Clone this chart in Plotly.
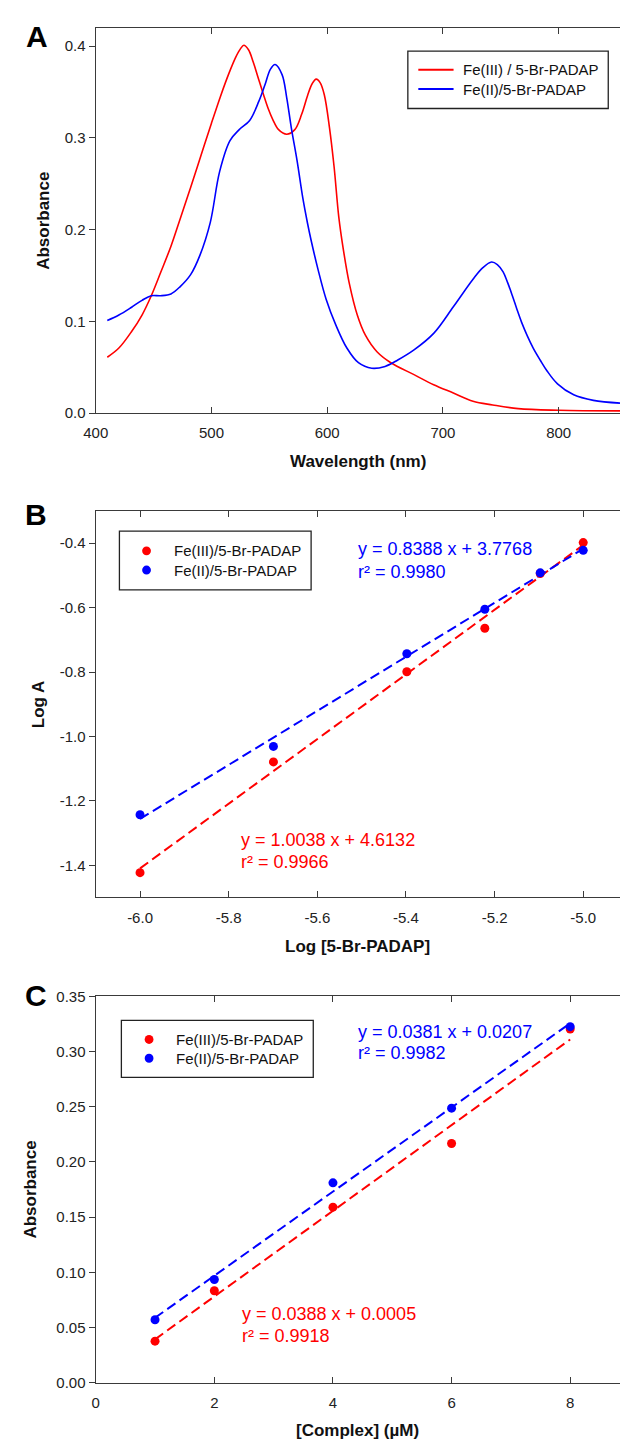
import numpy as np
import plotly.graph_objects as go

# ---------------- Panel A: absorption spectra ----------------
wl_fe3 = [410, 420, 431, 440, 448, 456, 465, 473, 482, 491, 500, 508, 515, 521, 525, 528,
          532, 536, 540, 545, 549, 553, 558, 565, 572, 578, 583, 587, 590.5, 594, 597.5,
          602, 606, 610, 614, 619, 626, 633, 643, 655, 675, 692, 709, 726, 743, 765, 800, 853]
abs_fe3 = [0.061, 0.071, 0.089, 0.107, 0.128, 0.153, 0.182, 0.212, 0.246, 0.281, 0.316,
           0.346, 0.370, 0.388, 0.397, 0.401, 0.396, 0.383, 0.367, 0.347, 0.332, 0.320,
           0.309, 0.304, 0.309, 0.326, 0.346, 0.359, 0.364, 0.360, 0.347, 0.311, 0.268,
           0.214, 0.178, 0.142, 0.107, 0.085, 0.067, 0.055, 0.042, 0.031, 0.022, 0.013,
           0.009, 0.005, 0.0032, 0.0025]

wl_fe2 = [410, 420, 431, 440, 448, 456, 465, 473, 482, 490, 499, 507, 516, 524, 533,
          541, 546, 551, 555, 561, 565, 569, 574, 579, 583, 586, 592, 599, 607.5, 617,
          627, 638.5, 650, 661, 675, 692, 709, 726, 734.5, 742, 747, 752, 756, 760, 764,
          768, 773, 778, 784, 790, 799, 813, 830, 853]
abs_fe2 = [0.101, 0.107, 0.1155, 0.123, 0.128, 0.128, 0.130, 0.138, 0.151, 0.172, 0.208,
           0.263, 0.297, 0.309, 0.319, 0.340, 0.357, 0.375, 0.380, 0.369, 0.344, 0.311,
           0.275, 0.234, 0.207, 0.189, 0.157, 0.1245, 0.096, 0.071, 0.055, 0.049, 0.051,
           0.058, 0.069, 0.087, 0.116, 0.146, 0.1586, 0.1647, 0.162, 0.154, 0.142, 0.128,
           0.113, 0.099, 0.084, 0.071, 0.058, 0.046, 0.032, 0.020, 0.014, 0.011]

# ---------------- Panel B: log-log plot ----------------
log_ligand = [-6.0, -5.699, -5.398, -5.222, -5.097, -5.0]
loga_fe3 = [-1.423, -1.079, -0.799, -0.664, -0.494, -0.398]
loga_fe2 = [-1.243, -1.031, -0.743, -0.605, -0.492, -0.422]
fitb_fe3 = [1.0038, 4.6132]
fitb_fe2 = [0.8388, 3.7768]

# ---------------- Panel C: calibration ----------------
conc = [1, 2, 4, 6, 8]
absc_fe3 = [0.0376, 0.0833, 0.159, 0.2167, 0.3204]
absc_fe2 = [0.057, 0.0935, 0.181, 0.2487, 0.3225]
fitc_fe3 = [0.0388, 0.0005]
fitc_fe2 = [0.0381, 0.0207]

label_fe3_a = "Fe(III) / 5-Br-PADAP"
label_fe2_a = "Fe(II)/5-Br-PADAP"
label_fe3 = "Fe(III)/5-Br-PADAP"
label_fe2 = "Fe(II)/5-Br-PADAP"

RED = "#ff0000"
BLUE = "#0000ff"
AX = "#3a3a3a"
FONT = "Liberation Sans, Arial, sans-serif"

W, H = 620, 1450


def px(x):
    return x / W


def py(y):
    return 1 - y / H


fig = go.Figure()

# Panel A traces
fig.add_trace(go.Scatter(x=wl_fe3, y=abs_fe3, mode="lines",
                         line=dict(color=RED, width=1.6, shape="spline", smoothing=1.0),
                         xaxis="x", yaxis="y", showlegend=False))
fig.add_trace(go.Scatter(x=wl_fe2, y=abs_fe2, mode="lines",
                         line=dict(color=BLUE, width=1.6, shape="spline", smoothing=1.0),
                         xaxis="x", yaxis="y", showlegend=False))


def fit_line(xs, coef):
    xx = np.array([min(xs), max(xs)], dtype=float)
    return xx, coef[0] * xx + coef[1]


# fitted dashed lines (panels B and C)
for xs, coef, col, ax in [(log_ligand, fitb_fe3, RED, "2"),
                          (log_ligand, fitb_fe2, BLUE, "2"),
                          (conc, fitc_fe3, RED, "3"),
                          (conc, fitc_fe2, BLUE, "3")]:
    fx, fy = fit_line(xs, coef)
    fig.add_trace(go.Scatter(x=fx, y=fy, mode="lines", line=dict(color=col, width=2, dash="10px,5px"),
                             xaxis="x" + ax, yaxis="y" + ax, showlegend=False))
# data points
for xs, ys, col, ax in [(log_ligand, loga_fe3, RED, "2"), (log_ligand, loga_fe2, BLUE, "2"),
                        (conc, absc_fe3, RED, "3"), (conc, absc_fe2, BLUE, "3")]:
    fig.add_trace(go.Scatter(x=xs, y=ys, mode="markers", marker=dict(color=col, size=9, line=dict(width=0)),
                             xaxis="x" + ax, yaxis="y" + ax, showlegend=False))

tickfont = dict(family=FONT, size=15, color="#222222")


def xax(rng, tv, tt, yanchor):
    return dict(domain=[px(84.5), 1.0], range=rng, tickvals=tv, ticktext=tt, anchor=yanchor,
                showline=True, linecolor=AX, linewidth=1.4, mirror="ticks", ticks="inside", ticklen=6,
                tickcolor=AX, tickwidth=1.2, showgrid=False, zeroline=False, tickfont=tickfont,
                ticklabelstandoff=6)


def yax(rng, tv, tt, dom, xanchor):
    return dict(domain=dom, range=rng, tickvals=tv, ticktext=tt, anchor=xanchor,
                showline=True, linecolor=AX, linewidth=1.4, mirror=False, ticks="outside", ticklen=6,
                tickcolor=AX, tickwidth=1.2, showgrid=False, zeroline=False, tickfont=tickfont)


xa_vals = [400, 500, 600, 700, 800]
xa_text = ["400", "500", "600", "700", "800"]
ya_vals = [0.0, 0.1, 0.2, 0.3, 0.4]
ya_text = ["0.0", "0.1", "0.2", "0.3", "0.4"]
xb_vals = [-6.0, -5.8, -5.6, -5.4, -5.2, -5.0]
xb_text = ["-6.0", "-5.8", "-5.6", "-5.4", "-5.2", "-5.0"]
yb_vals = [-1.4, -1.2, -1.0, -0.8, -0.6, -0.4]
yb_text = ["-1.4", "-1.2", "-1.0", "-0.8", "-0.6", "-0.4"]
xc_vals = [0, 2, 4, 6, 8]
xc_text = ["0", "2", "4", "6", "8"]
yc_vals = [0.0, 0.05, 0.10, 0.15, 0.20, 0.25, 0.30, 0.35]
yc_text = ["0.00", "0.05", "0.10", "0.15", "0.20", "0.25", "0.30", "0.35"]

fig.update_layout(
    width=W, height=H, margin=dict(l=0, r=0, t=0, b=0),
    paper_bgcolor="white", plot_bgcolor="white", showlegend=False,
    font=dict(family=FONT, size=15),
    xaxis=xax([400, 853], xa_vals, xa_text, "y"),
    yaxis=yax([0, 0.42], ya_vals, ya_text, [py(409), py(19)], "x"),
    xaxis2=xax([-6.1, -4.917], xb_vals, xb_text, "y2"),
    yaxis2=yax([-1.5, -0.3], yb_vals, yb_text, [py(899), py(508)], "x2"),
    xaxis3=xax([0, 8.84], xc_vals, xc_text, "y3"),
    yaxis3=yax([0, 0.35], yc_vals, yc_text, [py(1390), py(999)], "x3"),
)

ann = []
shapes = []


def text(x, y, s, size=15, color="#111111", bold=False, anchor="left", angle=0):
    ann.append(dict(x=px(x), y=py(y), xref="paper", yref="paper", text=("<b>%s</b>" % s) if bold else s,
                    showarrow=False, xanchor=anchor, yanchor="middle", textangle=angle,
                    font=dict(family=FONT, size=size, color=color)))


# panel letters
text(25, 28, "A", size=30, bold=True, anchor="center", color="#000000")
text(23, 512, "B", size=30, bold=True, anchor="center", color="#000000")
text(23, 998, "C", size=30, bold=True, anchor="center", color="#000000")

# axis titles
text(352, 458, "Wavelength (nm)", size=17, bold=True, anchor="center")
text(31, 214, "Absorbance", size=17, bold=True, anchor="center", angle=-90)
text(352, 949, "Log [5-Br-PADAP]", size=17, bold=True, anchor="center")
text(26, 703, "Log A", size=17, bold=True, anchor="center", angle=-90)
text(352, 1438, "[Complex] (µM)", size=17, bold=True, anchor="center")
text(18, 1195, "Absorbance", size=17, bold=True, anchor="center", angle=-90)

# regression equations
text(350, 546.7, "y = 0.8388 x + 3.7768", size=18, color=BLUE)
text(350, 569.3, "r² = 0.9980", size=18, color=BLUE)
text(231, 841, "y = 1.0038 x + 4.6132", size=18, color=RED)
text(231, 863.3, "r² = 0.9966", size=18, color=RED)
text(350, 1035, "y = 0.0381 x + 0.0207", size=18, color=BLUE)
text(350, 1056, "r² = 0.9982", size=18, color=BLUE)
text(232, 1320, "y = 0.0388 x + 0.0005", size=18, color=RED)
text(232, 1343, "r² = 0.9918", size=18, color=RED)


def box(x0, y0, x1, y1):
    shapes.append(dict(type="rect", xref="paper", yref="paper", x0=px(x0), x1=px(x1), y0=py(y1), y1=py(y0),
                       line=dict(color="#222222", width=1.3), fillcolor="white", layer="below"))


# legend A
box(403.3, 42.7, 608, 100.7)
for yy, col, lab in [(61.5, RED, label_fe3_a), (81, BLUE, label_fe2_a)]:
    shapes.append(dict(type="line", xref="paper", yref="paper", x0=px(414), x1=px(450), y0=py(yy), y1=py(yy),
                       line=dict(color=col, width=2)))
    text(458, yy, lab, size=15)


def dot(x, y, col, r=4.5):
    shapes.append(dict(type="circle", xref="paper", yref="paper", x0=px(x - r), x1=px(x + r),
                       y0=py(y + r), y1=py(y - r), fillcolor=col, line=dict(width=0)))


# legend B
box(108.7, 528.3, 304.5, 587.7)
for yy, col, lab in [(548.3, RED, label_fe3), (567.7, BLUE, label_fe2)]:
    dot(136.4, yy, col)
    text(162, yy, lab, size=15)

# legend C
box(110.7, 1023.3, 306.7, 1081)
for yy, col, lab in [(1042.7, RED, label_fe3), (1061.7, BLUE, label_fe2)]:
    dot(139, yy, col)
    text(164.3, yy, lab, size=15)

fig.update_layout(annotations=ann, shapes=shapes)
fig.write_html("out.html", config={"displayModeBar": False},
               post_script="document.body.style.margin='0';document.body.style.overflow='hidden';")
